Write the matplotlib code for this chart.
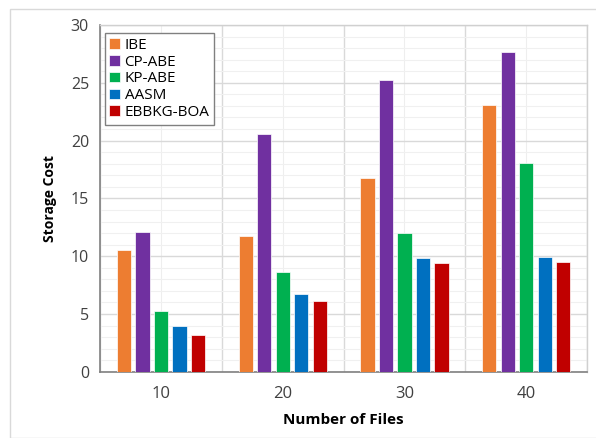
import matplotlib
matplotlib.use("Agg")
import matplotlib.pyplot as plt
import numpy as np
from matplotlib.patches import Rectangle

categories = ["10", "20", "30", "40"]
series_names = ["IBE", "CP-ABE", "KP-ABE", "AASM", "EBBKG-BOA"]
ibe = [10.5, 11.75, 16.75, 23.1]
cp_abe = [12.1, 20.6, 25.2, 27.65]
kp_abe = [5.3, 8.65, 12.0, 18.1]
aasm = [3.95, 6.75, 9.85, 9.95]
ebbkg = [3.2, 6.1, 9.4, 9.5]
colors = ["#ED7D31", "#7030A0", "#00B050", "#0070C0", "#C00000"]

plt.rcParams['font.family'] = ['Open Sans', 'DejaVu Sans']

fig = plt.figure(figsize=(5.96, 4.38), dpi=100)
ax = fig.add_axes([0.168, 0.151, 0.817, 0.792])

data = [ibe, cp_abe, kp_abe, aasm, ebbkg]
x = np.arange(len(categories))
bw = 0.118
step = 0.152
for i, (vals, c, name) in enumerate(zip(data, colors, series_names)):
    ax.bar(x + (i - 2) * step, vals, width=bw, color=c, label=name,
           edgecolor='white', linewidth=0.5, zorder=3)

ax.set_xlim(-0.5, len(categories) - 0.5)
ax.set_ylim(0, 30)
ax.set_yticks(np.arange(0, 31, 5))
ax.set_yticks(np.arange(0, 31, 1), minor=True)
ax.set_xticks(x)
ax.set_xticks(np.arange(-0.5, len(categories), 1.0), minor=True)
ax.set_xticklabels(categories)

ax.grid(which='major', axis='y', color='#D9D9D9', linewidth=1.0, zorder=0)
ax.grid(which='minor', axis='y', color='#F0F0F0', linewidth=0.8, zorder=0)
ax.grid(which='minor', axis='x', color='#D9D9D9', linewidth=1.0, zorder=0)
ax.grid(which='major', axis='x', color='#EEEEEE', linewidth=0.8, zorder=0)

ax.tick_params(which='both', length=0)
ax.tick_params(axis='y', labelsize=11.5, pad=8, colors='#404040')
ax.tick_params(axis='x', labelsize=12, pad=10, colors='#404040')

for s in ['left', 'bottom']:
    ax.spines[s].set_color('#808080')
    ax.spines[s].set_linewidth(1.2)
for s in ['top', 'right']:
    ax.spines[s].set_color('#D0D0D0')
    ax.spines[s].set_linewidth(1.0)

ax.set_xlabel("Number of Files", fontsize=11, fontweight='bold', labelpad=8)
ax.set_ylabel("Storage Cost", fontsize=10, fontweight='bold', labelpad=10)

leg = ax.legend(loc='upper left', bbox_to_anchor=(0.003, 0.985), fontsize=11,
                handlelength=0.7, handleheight=0.7, handletextpad=0.3,
                labelspacing=0.12, borderpad=0.3, fancybox=False, framealpha=1,
                edgecolor='#808080', borderaxespad=0.2)
leg.get_frame().set_linewidth(1.0)
leg.set_zorder(5)

fig.patches.append(Rectangle((0.017, 0.0), 0.99, 0.98, transform=fig.transFigure,
                             fill=False, edgecolor='#D9D9D9', linewidth=1.0))

fig.savefig("out.png", dpi=100)
